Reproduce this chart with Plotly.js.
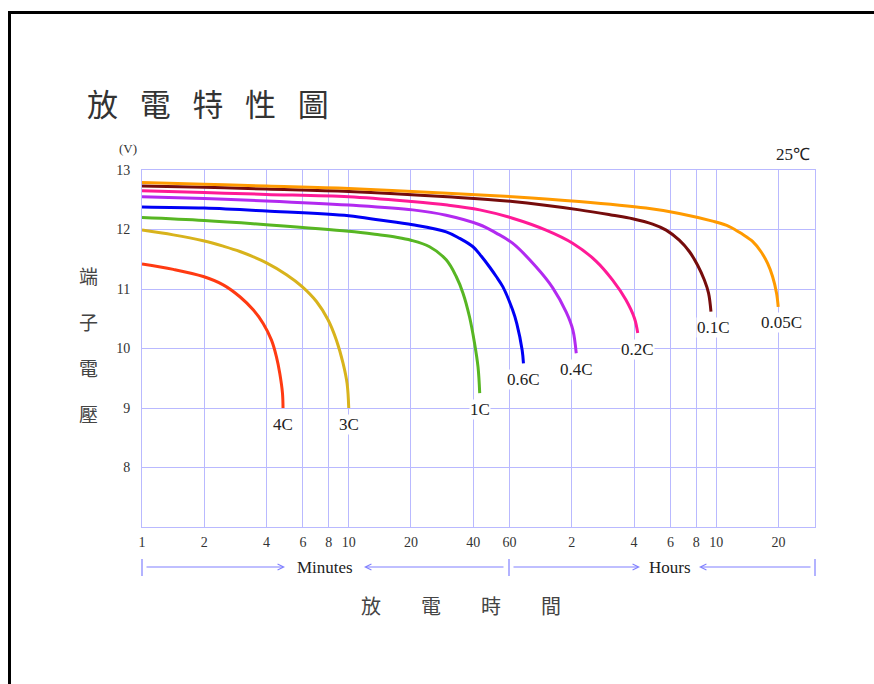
<!DOCTYPE html>
<html>
<head>
<meta charset="utf-8">
<script src="https://cdn.plot.ly/plotly-3.0.1.min.js"></script>
<style>
html,body{margin:0;padding:0;background:#fff;}
#chart{width:874px;height:684px;}
</style>
</head>
<body>
<div id="chart"></div>
<script>
// ---- data (x: minutes, y: volts) ----
const rateLabels = ['4C','3C','1C','0.6C','0.4C','0.2C','0.1C','0.05C'];
const seriesColors = ['#ff3a12','#d8b31c','#57b623','#0000f5','#b22af0','#ff1a96','#760c0c','#ff9a00'];

const x4C = [1,1.417,1.979,2.471,2.975,3.45,3.855,4.23,4.47,4.64,4.78,4.81];
const y4C = [11.42,11.33,11.21,11.07,10.87,10.65,10.42,10.14,9.86,9.58,9.25,9.0];

const x3C = [1,1.417,1.979,2.471,2.975,4.0,5.0,5.95,6.98,7.95,8.72,9.39,9.82,10.0];
const y3C = [11.99,11.91,11.81,11.72,11.63,11.44,11.24,11.04,10.79,10.48,10.14,9.75,9.41,9.0];

const x1C = [1,2,4,10,14,17,20,24.6,29.6,33.1,35.7,38.4,40.6,42.2,43];
const y1C = [12.20,12.15,12.08,11.97,11.91,11.87,11.82,11.71,11.49,11.21,10.93,10.53,10.09,9.69,9.25];

const x06C = [1,2,4,10,14.1,20.4,29.6,34.4,39.9,43.8,48,51.7,55.6,62,65,69,70];
const y06C = [12.38,12.36,12.31,12.23,12.16,12.08,11.96,11.85,11.71,11.55,11.37,11.21,11.04,10.65,10.42,9.97,9.75];

const x04C = [1,2,4,10,20.4,29.6,43,51.7,62,80.7,97,112.7,121.4,126];
const y04C = [12.55,12.52,12.48,12.41,12.33,12.24,12.08,11.94,11.77,11.37,11.02,10.61,10.31,9.92];

const x02C = [1,2,4,10,20,30,43,62,90,121,157,189,219,241,250];
const y02C = [12.65,12.62,12.59,12.55,12.47,12.41,12.33,12.19,11.99,11.77,11.47,11.15,10.82,10.51,10.26];

const x01C = [1,2,4,10,30,62,130.6,189,236,295,343,397,444,487,525,550,565];
const y01C = [12.73,12.71,12.68,12.64,12.55,12.47,12.33,12.24,12.18,12.09,11.99,11.82,11.63,11.40,11.15,10.93,10.62];

const x005C = [1,2,4,10,30,62,130,274,397,575,693,803,898,985,1062,1122,1173,1195];
const y005C = [12.79,12.76,12.73,12.69,12.61,12.55,12.47,12.36,12.27,12.14,12.05,11.92,11.80,11.63,11.43,11.21,10.93,10.70];

const xSeries = [x4C,x3C,x1C,x06C,x04C,x02C,x01C,x005C];
const ySeries = [y4C,y3C,y1C,y06C,y04C,y02C,y01C,y005C];

const xTickVals = [1,2,4,6,8,10,20,40,60,120,240,360,480,600,1200];
const xTickText = ['1','2','4','6','8','10','20','40','60','2','4','6','8','10','20'];
const yTickVals = [8,9,10,11,12,13];
const xMax = 1800; // 30 hours
const yRange = [7,13];

const chartTitle = '放\u2002\u2009電\u2002\u2009特\u2002\u2009性\u2002\u2009圖';
const yTitleChars = ['端','子','電','壓'];
const xTitle = '放\u2003\u2003電\u2003\u2003時\u2003\u2003間';

// ---- build ----
const gridColor = '#b9b9ff';
const serif = '"Liberation Serif", "Times New Roman", serif';
const cjk = '"Noto Sans CJK TC", "Noto Sans CJK SC", sans-serif';

const traces = xSeries.map((xs,i)=>({
  x: xs, y: ySeries[i], type:'scatter', mode:'lines',
  line:{color:seriesColors[i], width:3, shape:'spline', smoothing:1},
  hoverinfo:'skip', showlegend:false
}));

const annotations = [];
xSeries.forEach((xs,i)=>{
  const n = xs.length-1;
  annotations.push({
    x: Math.log10(xs[n]), y: ySeries[i][n], xref:'x', yref:'y',
    text: rateLabels[i], showarrow:false, yshift:-16, xshift: i>=6 ? 3 : 0,
    font:{family:serif, size:17, color:'#222'}, bgcolor:'#ffffff', borderpad:0
  });
});

annotations.push({xref:'paper', yref:'paper', x:(85-142)/673, y:(527-102)/357, xanchor:'left', yanchor:'middle',
  text: chartTitle, showarrow:false, font:{family:cjk, size:31, color:'#333'}});
yTitleChars.forEach((c,i)=>{
  annotations.push({xref:'paper', yref:'paper', x:(88-142)/673, y:(527-(275+i*46))/357,
    xanchor:'center', yanchor:'middle', text:c, showarrow:false,
    font:{family:cjk, size:19, color:'#444'}});
});
annotations.push({xref:'paper', yref:'paper', x:(461-142)/673, y:(527-605)/357,
  xanchor:'center', yanchor:'middle', text:xTitle, showarrow:false,
  font:{family:cjk, size:20, color:'#444'}});
annotations.push({xref:'paper', yref:'paper', x:(128-142)/673, y:(527-148)/357,
  xanchor:'center', yanchor:'middle', text:'(V)', showarrow:false,
  font:{family:serif, size:13, color:'#333'}});
annotations.push({xref:'paper', yref:'paper', x:(812-142)/673, y:(527-155)/357,
  xanchor:'right', yanchor:'middle', text:'25℃', showarrow:false,
  font:{family:serif, size:17, color:'#222'}});
annotations.push({xref:'paper', yref:'paper', x:(325-142)/673, y:(527-567)/357,
  xanchor:'center', yanchor:'middle', text:'Minutes', showarrow:false,
  font:{family:serif, size:17, color:'#222'}});
annotations.push({xref:'paper', yref:'paper', x:(670-142)/673, y:(527-567)/357,
  xanchor:'center', yanchor:'middle', text:'Hours', showarrow:false,
  font:{family:serif, size:17, color:'#222'}});

// arrows: [head px, tail offset px]
const arrowDefs = [[285,-140],[364,141],[640,-128],[699,113]];
const arrowColor = '#8080ff';
arrowDefs.forEach(a=>{
  annotations.push({xref:'paper', yref:'paper', x:(a[0]-142)/673, y:(527-567)/357,
    ax:a[1], ay:0, text:'', showarrow:true, arrowhead:5, arrowsize:1, arrowwidth:1.2,
    arrowcolor:arrowColor, standoff:0});
});

const shapes = [];
[0,(509-142)/673,1].forEach(px=>{
  shapes.push({type:'line', xref:'paper', yref:'paper', x0:px, x1:px,
    y0:(527-559)/357, y1:(527-576)/357, line:{color:arrowColor, width:1.2}});
});
// page frame (top and left)
shapes.push({type:'path', xref:'paper', yref:'paper',
  path:`M ${(9.5-142)/673},${(527-700)/357} L ${(9.5-142)/673},${(527-12.5)/357} L ${(880-142)/673},${(527-12.5)/357}`,
  line:{color:'#000', width:3}});

const layout = {
  width:874, height:684,
  margin:{l:142, r:59, t:170, b:157, pad:0},
  paper_bgcolor:'#fff', plot_bgcolor:'#fff',
  showlegend:false,
  xaxis:{type:'log', range:[0, Math.log10(xMax)], tickmode:'array', tickvals:xTickVals, ticktext:xTickText,
    showgrid:true, gridcolor:gridColor, gridwidth:1, showline:true, linecolor:gridColor, linewidth:1, mirror:true,
    ticks:'', zeroline:false, ticklabelstandoff:2,
    tickfont:{family:serif, size:14, color:'#333'}},
  yaxis:{range:yRange, tickmode:'array', tickvals:yTickVals,
    showgrid:true, gridcolor:gridColor, gridwidth:1, showline:true, linecolor:gridColor, linewidth:1, mirror:true,
    ticks:'', zeroline:false, ticklabelstandoff:8,
    tickfont:{family:serif, size:14, color:'#333'}},
  annotations, shapes
};

Plotly.newPlot('chart', traces, layout, {staticPlot:true, displayModeBar:false});
</script>
</body>
</html>
